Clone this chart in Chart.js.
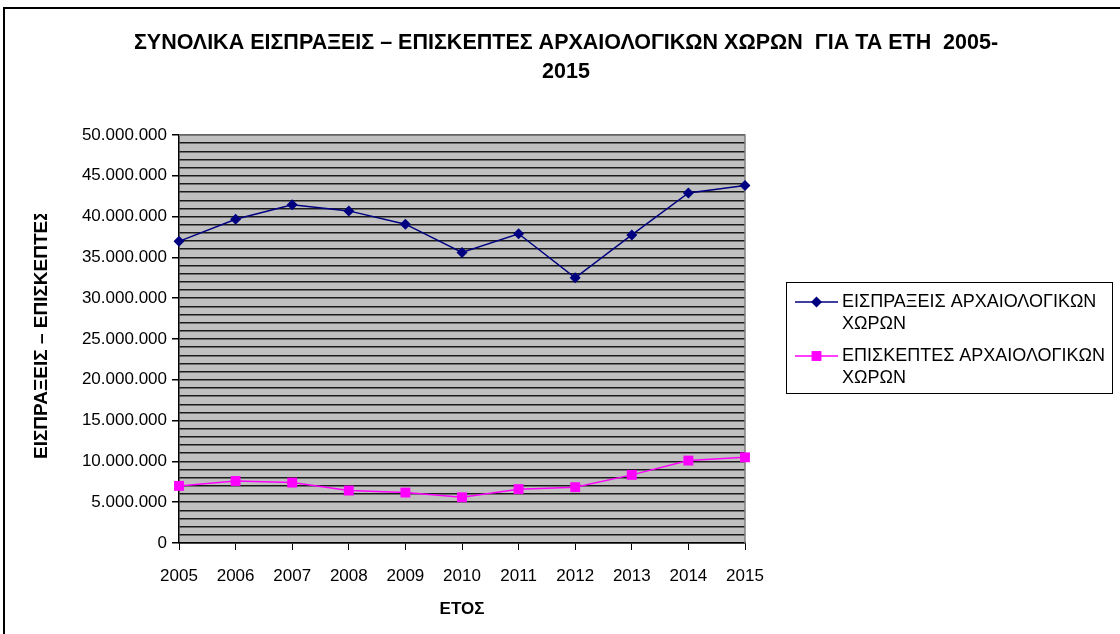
<!DOCTYPE html>
<html>
<head>
<meta charset="utf-8">
<script src="https://cdn.jsdelivr.net/npm/chart.js@4.4.1/dist/chart.umd.min.js"></script>
<style>
    html, body { margin: 0; padding: 0; background: #fff; }
    #wrap { width: 1120px; height: 634px; position: relative; }
</style>
</head>
<body>
<div id="wrap"><canvas id="chart" width="1120" height="634"></canvas></div>
<script>
// Chart data
const years = ['2005', '2006', '2007', '2008', '2009', '2010', '2011', '2012', '2013', '2014', '2015'];
const revenue = [36970000, 39680000, 41440000, 40700000, 39070000, 35600000, 37900000, 32500000, 37750000, 42900000, 43800000];
const visitors = [7000000, 7600000, 7400000, 6430000, 6180000, 5600000, 6600000, 6840000, 8350000, 10100000, 10500000];
const seriesNames = ['ΕΙΣΠΡΑΞΕΙΣ ΑΡΧΑΙΟΛΟΓΙΚΩΝ ΧΩΡΩΝ', 'ΕΠΙΣΚΕΠΤΕΣ ΑΡΧΑΙΟΛΟΓΙΚΩΝ ΧΩΡΩΝ'];
const legendLines = [['ΕΙΣΠΡΑΞΕΙΣ ΑΡΧΑΙΟΛΟΓΙΚΩΝ', 'ΧΩΡΩΝ'], ['ΕΠΙΣΚΕΠΤΕΣ ΑΡΧΑΙΟΛΟΓΙΚΩΝ', 'ΧΩΡΩΝ']];
const titleLines = ['ΣΥΝΟΛΙΚΑ ΕΙΣΠΡΑΞΕΙΣ – ΕΠΙΣΚΕΠΤΕΣ ΑΡΧΑΙΟΛΟΓΙΚΩΝ ΧΩΡΩΝ  ΓΙΑ ΤΑ ΕΤΗ  2005-', '2015'];
const yTitle = 'ΕΙΣΠΡΑΞΕΙΣ – ΕΠΙΣΚΕΠΤΕΣ ΑΡΧΑΙΟΛΟΓΙΚΩΝ ΧΩΡΩΝ';
const xTitle = 'ΕΤΟΣ';
const yMax = 50000000;
const yGridStep = 1000000;
const yLabelStep = 5000000;

const FONT = "'Liberation Sans', Arial, sans-serif";

function fmtDots(v) {
    return String(v).replace(/\B(?=(\d{3})+(?!\d))/g, '.');
}

// page frame + plot background
const backdrop = {
    id: 'backdrop',
    beforeDraw(chart) {
        const { ctx, chartArea: a } = chart;
        ctx.save();
        ctx.fillStyle = '#fff';
        ctx.fillRect(0, 0, chart.width, chart.height);
        ctx.fillStyle = '#c0c0c0';
        ctx.fillRect(a.left, a.top, a.right - a.left, a.bottom - a.top);
        ctx.strokeStyle = '#000';
        ctx.lineWidth = 2;
        ctx.beginPath();
        ctx.moveTo(4, 634);
        ctx.lineTo(4, 8);
        ctx.lineTo(1120, 8);
        ctx.stroke();
        ctx.restore();
    },
    beforeDatasetsDraw(chart) {
        const { ctx, chartArea: a } = chart;
        ctx.save();
        ctx.strokeStyle = '#808080';
        ctx.lineWidth = 1.5;
        ctx.beginPath();
        ctx.moveTo(a.left, a.top);
        ctx.lineTo(a.right, a.top);
        ctx.lineTo(a.right, a.bottom);
        ctx.stroke();
        ctx.restore();
    }
};

// title, clipped y-axis title and the boxed legend
const decorations = {
    id: 'decorations',
    afterDraw(chart) {
        const ctx = chart.ctx;
        ctx.save();
        ctx.fillStyle = '#000';
        ctx.textAlign = 'center';
        ctx.textBaseline = 'middle';
        ctx.font = 'bold 21.5px ' + FONT;
        ctx.fillText(titleLines[0], 566, 43);
        ctx.fillText(titleLines[1], 566, 72);

        // y title is cut off in the original
        ctx.save();
        ctx.beginPath();
        ctx.rect(0, 214, 120, 420);
        ctx.clip();
        ctx.translate(42, 459);
        ctx.rotate(-Math.PI / 2);
        ctx.textAlign = 'left';
        ctx.font = 'bold 19px ' + FONT;
        ctx.fillText(yTitle, 0, 0);
        ctx.restore();

        // legend
        ctx.strokeStyle = '#000';
        ctx.lineWidth = 1;
        ctx.strokeRect(786.5, 282.5, 326, 111);
        ctx.textAlign = 'left';
        ctx.font = '18px ' + FONT;
        const rowY = [302, 356];
        chart.data.datasets.forEach((ds, i) => {
            const y = rowY[i];
            ctx.strokeStyle = ds.borderColor;
            ctx.lineWidth = 1.5;
            ctx.beginPath();
            ctx.moveTo(795, y);
            ctx.lineTo(838, y);
            ctx.stroke();
            ctx.fillStyle = ds.backgroundColor;
            Chart.helpers.drawPoint(ctx, { pointStyle: ds.pointStyle, radius: ds.pointRadius, rotation: 0, borderWidth: 0 }, 816.5, y);
            ctx.fillStyle = '#000';
            ctx.fillText(legendLines[i][0], 842, y);
            ctx.fillText(legendLines[i][1], 842, y + 22);
        });
        ctx.restore();
    }
};

const ctx = document.getElementById('chart');
new Chart(ctx, {
    type: 'line',
    data: {
        labels: years,
        datasets: [{
            label: seriesNames[0],
            data: revenue,
            borderColor: '#000080',
            backgroundColor: '#000080',
            borderWidth: 1.5,
            pointStyle: 'rectRot',
            pointRadius: 5.5,
            pointBorderWidth: 0,
            tension: 0
        }, {
            label: seriesNames[1],
            data: visitors,
            borderColor: '#ff00ff',
            backgroundColor: '#ff00ff',
            borderWidth: 1.5,
            pointStyle: 'rect',
            pointRadius: 7,
            pointBorderWidth: 0,
            tension: 0
        }]
    },
    options: {
        responsive: false,
        animation: false,
        layout: { padding: { left: 0, top: 135, right: 375, bottom: 0 } },
        plugins: {
            legend: { display: false },
            title: { display: false },
            tooltip: { enabled: false }
        },
        scales: {
            x: {
                offset: false,
                grid: { drawOnChartArea: false, tickLength: 7, color: '#000', lineWidth: 1 },
                border: { color: '#000', width: 1.5 },
                ticks: { color: '#000', font: { family: FONT, size: 17 }, padding: 16, maxRotation: 0, autoSkip: false },
                title: { display: true, text: xTitle, color: '#000', font: { family: FONT, size: 17, weight: 'bold' }, padding: { top: 0, bottom: 14 } },
                afterFit: (scale) => { scale.height = 91; }
            },
            y: {
                min: 0,
                max: yMax,
                grid: {
                    color: '#1a1a1a',
                    lineWidth: 1.5,
                    tickLength: 7,
                    tickColor: (c) => (c.tick && c.tick.value % yLabelStep === 0) ? '#000' : 'rgba(0,0,0,0)'
                },
                border: { color: '#000', width: 1.5 },
                ticks: {
                    stepSize: yGridStep,
                    autoSkip: false,
                    color: '#000',
                    padding: 5,
                    font: { family: FONT, size: 17 },
                    callback: (v) => v % yLabelStep === 0 ? fmtDots(v) : ''
                },
                afterFit: (scale) => { scale.width = 179; }
            }
        }
    },
    plugins: [backdrop, decorations]
});
</script>
</body>
</html>
